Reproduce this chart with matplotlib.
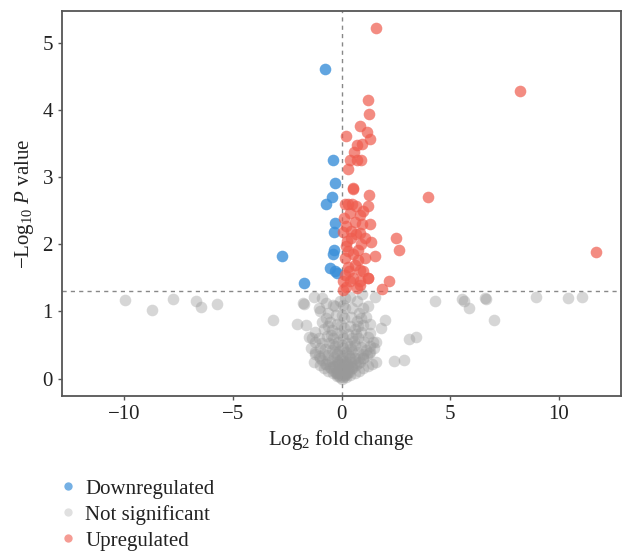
import numpy as np
import matplotlib
matplotlib.use("Agg")
import matplotlib.pyplot as plt
from matplotlib.lines import Line2D

plt.rcParams['font.family'] = ['Liberation Serif', 'DejaVu Serif']
plt.rcParams['mathtext.fontset'] = 'custom'
plt.rcParams['mathtext.rm'] = 'Liberation Serif'
plt.rcParams['mathtext.it'] = 'Liberation Serif:italic'

# downregulated genes (log2 FC, -log10 p)
down_x = [-0.78, -0.40, -0.30, -0.43, -0.71, -0.31, -0.35, -0.34, -0.37, -0.52,
          -0.28, -1.72, -2.76, -0.22]
down_y = [4.61, 3.26, 2.92, 2.70, 2.60, 2.32, 2.18, 1.92, 1.86, 1.65,
          1.61, 1.42, 1.83, 1.57]

# upregulated genes
up_x = [1.61, 8.20, 4.00, 11.70, 2.52, 2.67, 1.52, 2.18, 1.86, 1.24,
        1.24, 1.26, 0.84, 1.17, 0.22, 1.32, 0.95, 0.71, 0.57, 0.40,
        0.71, 0.92, 0.32, 0.52, 0.52, 1.26, 0.29, 0.68, 1.21, 0.37,
        0.83, 0.60, 1.29, 0.22, 0.06, 0.83, 0.45, 1.37, 0.22, 0.75,
        0.14, 0.75, 0.29, 0.83, 0.14, 0.52, 1.21, 0.22, 0.83, 0.06,
        0.10, 0.45, 0.90, 0.30, 0.60, 1.00, 0.40, 0.70, 1.10, 0.95,
        0.50, 1.00, 0.25, 0.65, 0.35, 0.85, 1.10, 0.15, 0.05, 0.55]
up_y = [5.22, 4.29, 2.71, 1.89, 2.09, 1.92, 1.83, 1.46, 1.34, 1.50,
        4.15, 3.95, 3.76, 3.68, 3.62, 3.57, 3.50, 3.48, 3.38, 3.26,
        3.26, 3.26, 3.12, 2.84, 2.82, 2.74, 2.60, 2.57, 2.57, 2.47,
        2.44, 2.34, 2.31, 2.27, 2.19, 2.17, 2.09, 2.04, 1.97, 1.92,
        1.80, 1.77, 1.67, 1.62, 1.55, 1.50, 1.50, 1.37, 1.40, 1.32,
        2.40, 2.20, 2.00, 1.90, 1.70, 1.60, 1.45, 1.35, 1.80, 2.30,
        2.60, 2.50, 2.05, 2.15, 1.60, 1.45, 2.10, 2.60, 1.45, 1.85]

# not significant genes
ns_x = [-9.98, -8.71, -7.76, -6.69, -6.45, -5.71, -3.17, -1.75, -1.28, 4.30,
        5.57, 5.62, 5.85, 6.59, 6.64, 7.02, 8.94, 10.43, 11.06, 3.10,
        3.41, 2.40, 2.87, 1.54, 0.96, -1.72, -1.03, -2.03, -1.64, -0.41,
        1.00, 1.98, 1.82, -1.50, -1.00, 1.30, 1.60, 0.70, 0.40, -0.70,
        1.20, -0.90, 0.00, 0.05, -0.05,
        0.20, 0.40, 0.60, 0.80, 1.00, 1.20, 1.40, 1.60,
        0.17, 0.34, 0.50, 0.67, 0.84, 1.00, 1.17, 1.33, 1.50,
        0.15, 0.30, 0.45, 0.60, 0.75, 0.90, 1.05, 1.20, 1.30,
        0.12, 0.25, 0.38, 0.50, 0.63, 0.75, 0.88, 1.00, 1.15,
        0.10, 0.20, 0.30, 0.40, 0.50, 0.60, 0.70, 0.80,
        0.06, 0.12, 0.19, 0.25, 0.31, 0.37, 0.44, 0.50,
        0.02, 0.04, 0.06, 0.08, 0.10, 0.12, 0.14, 0.15,
        0.16, 0.32, 0.48, 0.64, 0.80, 0.97, 1.13, 1.29, 1.45,
        0.11, 0.22, 0.33, 0.44, 0.56, 0.67, 0.78, 0.90,
        0.25, 0.50, 0.75, 1.00, 1.25,
        -0.20, -0.40, -0.60, -0.80, -1.00, -1.25,
        -0.18, -0.35, -0.53, -0.70, -0.88, -1.05, -1.22, -1.40,
        -0.15, -0.30, -0.45, -0.60, -0.75, -0.90, -1.05, -1.20,
        -0.11, -0.23, -0.34, -0.45, -0.56, -0.68, -0.79, -0.90,
        -0.08, -0.15, -0.23, -0.30, -0.38, -0.45, -0.53, -0.60,
        -0.04, -0.08, -0.11, -0.15, -0.19, -0.23, -0.26, -0.30,
        -0.25, -0.50, -0.75, -1.00, -1.20,
        -0.10, -0.20, -0.30, -0.40, -0.50, -0.60, -0.70,
        -0.20, -0.40, -0.60, -0.80, -1.00, -1.20, -1.35,
        0.00, 0.03, -0.03, 0.05, -0.05, 0.00, 0.00, 0.02, -0.02, 0.00,
        0.05, -0.08]
ns_y = [1.17, 1.02, 1.18, 1.15, 1.07, 1.11, 0.87, 1.12, 1.21, 1.15,
        1.18, 1.16, 1.05, 1.20, 1.18, 0.88, 1.22, 1.20, 1.22, 0.59,
        0.62, 0.26, 0.27, 1.22, 1.26, 1.11, 1.05, 0.81, 0.80, 1.09,
        1.05, 0.88, 0.75, 0.62, 1.00, 0.82, 0.55, 1.15, 1.22, 1.12,
        1.08, 1.20, 0.00, 0.02, 0.02,
        0.03, 0.06, 0.09, 0.12, 0.15, 0.18, 0.22, 0.25,
        0.05, 0.10, 0.15, 0.20, 0.25, 0.30, 0.35, 0.40, 0.45,
        0.08, 0.16, 0.24, 0.31, 0.39, 0.47, 0.55, 0.62, 0.68,
        0.10, 0.20, 0.30, 0.40, 0.50, 0.60, 0.70, 0.80, 0.92,
        0.12, 0.25, 0.37, 0.49, 0.61, 0.74, 0.86, 0.98,
        0.13, 0.26, 0.40, 0.53, 0.66, 0.79, 0.92, 1.05,
        0.15, 0.30, 0.45, 0.60, 0.75, 0.90, 1.05, 1.20,
        0.06, 0.12, 0.18, 0.24, 0.30, 0.37, 0.43, 0.49, 0.55,
        0.11, 0.22, 0.33, 0.44, 0.56, 0.67, 0.78, 0.90,
        0.08, 0.15, 0.23, 0.30, 0.38,
        0.04, 0.08, 0.12, 0.16, 0.20, 0.25,
        0.06, 0.11, 0.17, 0.22, 0.28, 0.34, 0.39, 0.45,
        0.09, 0.18, 0.26, 0.35, 0.44, 0.53, 0.61, 0.70,
        0.11, 0.21, 0.32, 0.43, 0.53, 0.64, 0.74, 0.85,
        0.12, 0.24, 0.36, 0.49, 0.61, 0.73, 0.85, 0.97,
        0.14, 0.27, 0.41, 0.54, 0.68, 0.81, 0.95, 1.08,
        0.08, 0.15, 0.22, 0.30, 0.36,
        0.13, 0.26, 0.39, 0.52, 0.65, 0.78, 0.90,
        0.09, 0.18, 0.27, 0.36, 0.45, 0.54, 0.61,
        0.05, 0.10, 0.10, 0.20, 0.20, 0.35, 0.50, 0.65, 0.80, 0.95,
        1.10, 1.15]

p_cut = -np.log10(0.05)

fig = plt.figure(figsize=(6.24, 5.53), dpi=100)
ax = fig.add_axes([62/624, 1 - 396/553, (621 - 62)/624, (396 - 11)/553])

ax.scatter(ns_x, ns_y, s=70, color='#999999', alpha=0.4, linewidths=0, zorder=2)
ax.scatter(down_x, down_y, s=70, color='#3a8fd9', alpha=0.8, linewidths=0, zorder=3)
ax.scatter(up_x, up_y, s=70, color='#ef5b4d', alpha=0.7, linewidths=0, zorder=3)

ax.axvline(0, color='#888888', lw=1, ls=(0, (3, 3)), zorder=1)
ax.axhline(p_cut, color='#888888', lw=1, ls=(0, (3, 3)), zorder=1)

ax.set_xlim(-12.87, 12.87)
ax.set_ylim(-0.26, 5.48)
ax.set_xticks([-10, -5, 0, 5, 10])
ax.set_xticklabels(['\u221210', '\u22125', '0', '5', '10'])
ax.set_yticks([0, 1, 2, 3, 4, 5])

for s in ax.spines.values():
    s.set_color('#555555')
    s.set_linewidth(1.3)
ax.tick_params(colors='#555555', length=3, width=1, labelsize=15, labelcolor='#222222')

ax.set_xlabel('Log$_2$ fold change', fontsize=15, color='#222222', labelpad=3)
ax.set_ylabel('\u2212Log$_{10}$ $P$ value', fontsize=15, color='#222222', labelpad=5)

handles = [Line2D([], [], ls='', marker='o', ms=6, color='#3a8fd9', alpha=0.7, mec='none'),
           Line2D([], [], ls='', marker='o', ms=6, color='#999999', alpha=0.3, mec='none'),
           Line2D([], [], ls='', marker='o', ms=6, color='#ef5b4d', alpha=0.6, mec='none')]
fig.legend(handles, ['Downregulated', 'Not significant', 'Upregulated'],
           loc='upper left', bbox_to_anchor=(58/624, 1 - 479/553), frameon=False,
           fontsize=15, handlelength=1.0, handletextpad=0.3, labelspacing=0.3,
           borderpad=0, borderaxespad=0, labelcolor='#222222')

fig.savefig('out.png', dpi=100)
